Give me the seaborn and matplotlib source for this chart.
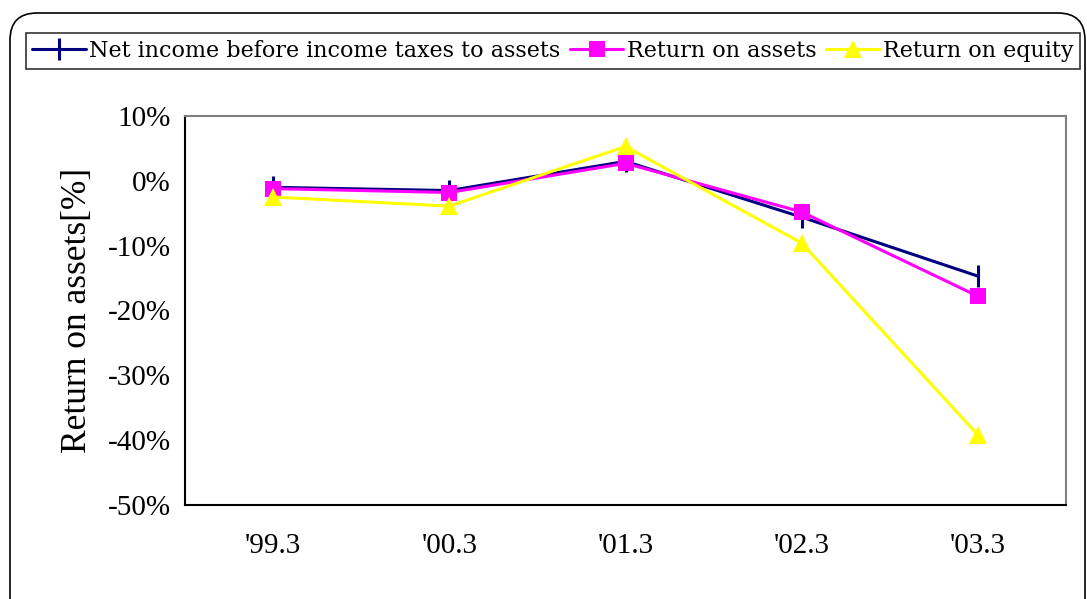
import matplotlib
matplotlib.use("Agg")
import matplotlib.pyplot as plt
from matplotlib.patches import FancyBboxPatch
from matplotlib.ticker import FixedLocator, FuncFormatter
import seaborn as sns
import pandas as pd

# Fiscal years (March year-end)
periods = ["'99.3", "'00.3", "'01.3", "'02.3", "'03.3"]

# Ratios in percent
net_income_to_assets = [-1.0, -1.5, 3.0, -5.6, -14.7]
return_on_assets = [-1.2, -1.8, 2.7, -4.8, -17.8]
return_on_equity = [-2.5, -3.9, 5.3, -9.6, -39.2]

series_names = ["Net income before income taxes to assets",
                "Return on assets",
                "Return on equity"]
series_values = [net_income_to_assets, return_on_assets, return_on_equity]

y_ticks = [10, 0, -10, -20, -30, -40, -50]

rows = []
for name, vals in zip(series_names, series_values):
    for i, (p, v) in enumerate(zip(periods, vals)):
        rows.append({"period": p, "pos": i, "value": v, "series": name})
df = pd.DataFrame(rows)

sns.set_theme(style="white")
plt.rcParams["font.family"] = ["Liberation Serif", "DejaVu Serif"]
plt.rcParams["text.color"] = "black"
plt.rcParams["axes.labelcolor"] = "black"
plt.rcParams["xtick.color"] = "black"
plt.rcParams["ytick.color"] = "black"

fig = plt.figure(figsize=(10.87, 5.99), dpi=100)

# rounded outer frame
frame = FancyBboxPatch((10 / 1087, -0.05), 1075 / 1087, (599 - 13) / 599 + 0.05,
                       boxstyle="round,pad=0,rounding_size=0.025",
                       transform=fig.transFigure, facecolor="none",
                       edgecolor="black", linewidth=1.2, zorder=-1,
                       mutation_aspect=1087 / 599)
fig.patches.append(frame)

ax = fig.add_axes([185 / 1087, 94 / 599, 881 / 1087, 389 / 599])
ax.set_facecolor("white")

styles = {
    series_names[0]: dict(color="#000080", marker="|", markersize=16, mew=2.2),
    series_names[1]: dict(color="#FF00FF", marker="s", markersize=11, mew=0),
    series_names[2]: dict(color="#FFFF00", marker="^", markersize=13, mew=0),
}

for name in series_names:
    st = styles[name]
    sub = df[df["series"] == name]
    sns.lineplot(data=sub, x="pos", y="value", ax=ax, color=st["color"],
                 linewidth=2.2, marker=st["marker"], markersize=st["markersize"],
                 markeredgewidth=st["mew"], markeredgecolor=st["color"],
                 markerfacecolor=st["color"], label=name, legend=False)

ax.set_xlim(-0.5, len(periods) - 0.5)
ax.set_ylim(-50, 10)

# category labels centred, tick marks on the category boundaries
ax.set_xticks(range(len(periods)))
ax.set_xticklabels(periods, fontsize=21)
ax.tick_params(axis="x", which="major", length=0, pad=20)
ax.xaxis.set_minor_locator(FixedLocator([i + 0.5 for i in range(len(periods) - 1)]))
ax.tick_params(axis="x", which="minor", direction="in", length=9, width=1, color="black")

ax.set_yticks(y_ticks)
ax.yaxis.set_major_formatter(FuncFormatter(lambda v, _: f"{int(v)}%"))
ax.tick_params(axis="y", direction="inout", length=8, width=1, color="black",
               labelsize=21, pad=6)

ax.set_xlabel("")
ax.set_ylabel("Return on assets[%]", fontsize=25.5, labelpad=10)

for side in ["left", "bottom"]:
    ax.spines[side].set_color("black")
    ax.spines[side].set_linewidth(1.5)
for side in ["top", "right"]:
    ax.spines[side].set_color("#808080")
    ax.spines[side].set_linewidth(1.5)

handles, labels = ax.get_legend_handles_labels()
leg = fig.legend(handles, labels, loc="center", bbox_to_anchor=(553 / 1087, (599 - 51) / 599),
                 ncol=3, frameon=True, fancybox=False,
                 prop={"family": "DejaVu Serif", "size": 16},
                 handlelength=2.4, handletextpad=0.15, columnspacing=0.45,
                 borderpad=0.3, borderaxespad=0)
leg.get_frame().set_edgecolor("black")
leg.get_frame().set_linewidth(1.2)

fig.savefig("out.png", dpi=100)
